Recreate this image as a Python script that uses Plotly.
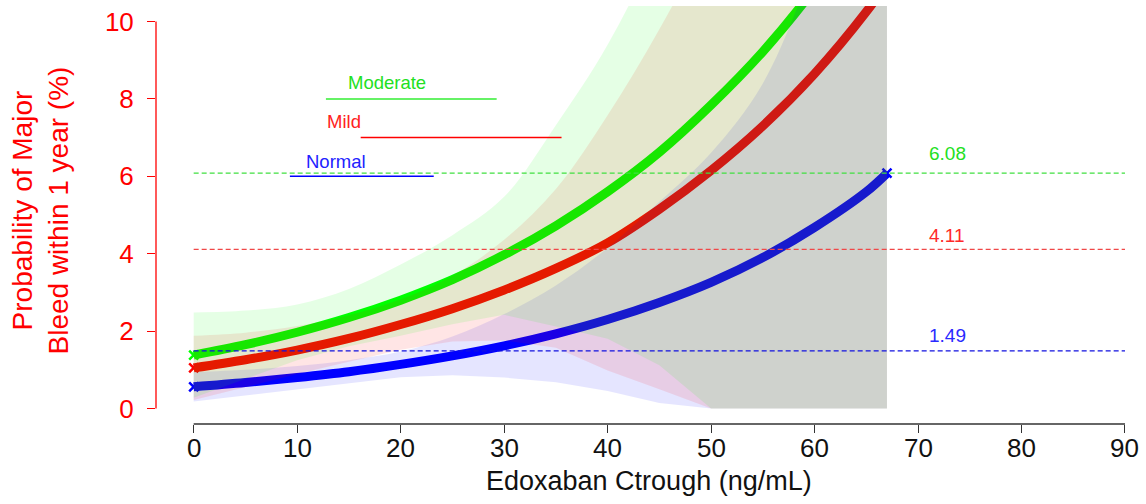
import plotly.graph_objects as go

# ---------------- data ----------------
conc = [0, 5, 10, 15, 20, 25, 30, 35, 40, 45, 50, 55, 60, 65, 67]

normal_mean = [0.56, 0.67, 0.80, 0.95, 1.14, 1.36, 1.62, 1.93, 2.30, 2.74, 3.26, 3.90, 4.68, 5.60, 6.08]
normal_upper = [0.94, 1.00, 1.10, 1.25, 1.47, 1.86, 2.44, 3.18, 4.15, 5.34, 6.61, 8.40, 11.48, 14.8, 16.3]
normal_lower = [0.18, 0.34, 0.50, 0.65, 0.81, 0.86, 0.80, 0.68, 0.45, 0.14, 0.0, 0.0, 0.0, 0.0, 0.0]

mild_mean = [1.05, 1.26, 1.51, 1.81, 2.17, 2.58, 3.06, 3.62, 4.28, 5.15, 6.15, 7.30, 8.65, 10.25, 11.0]
mild_upper = [1.88, 1.96, 2.13, 2.41, 2.82, 3.43, 4.36, 5.67, 7.58, 9.80, 12.35, 15.5, 19.45, 24.25, 26.5]
mild_lower = [0.22, 0.56, 0.89, 1.21, 1.52, 1.73, 1.76, 1.57, 0.98, 0.50, 0.0, 0.0, 0.0, 0.0, 0.0]

moderate_mean = [1.38, 1.65, 1.97, 2.35, 2.80, 3.33, 3.97, 4.72, 5.60, 6.62, 7.84, 9.22, 10.85, 12.75, 13.6]
moderate_upper = [2.48, 2.53, 2.69, 3.09, 3.72, 4.48, 5.47, 7.32, 9.40, 12.1, 15.8, 20.2, 25.4, 31.8, 34.6]
moderate_lower = [0.28, 0.77, 1.25, 1.61, 1.88, 2.18, 2.42, 2.12, 1.80, 1.12, 0.0, 0.0, 0.0, 0.0, 0.0]

ref_values = [6.08, 4.11, 1.49]
ref_labels = ["6.08", "4.11", "1.49"]

group_names = ["Moderate", "Mild", "Normal"]

x_ticks = [0, 10, 20, 30, 40, 50, 60, 70, 80, 90]
y_ticks = [0, 2, 4, 6, 8, 10]

# ---------------- styling ----------------
FONT = "Liberation Sans, Arial, sans-serif"
X_RANGE = [-3.64, 92.03]
Y_RANGE = [-0.4, 10.4]
M_L, M_R, M_T, M_B = 156, 0, 6, 80
W, H = 1146, 504
PW, PH = W - M_L - M_R, H - M_T - M_B

line_cols = {"Normal": "#0000ff", "Mild": "#ff0000", "Moderate": "#00ff00"}
band_cols = {"Normal": "rgba(0,0,255,0.1)", "Mild": "rgba(255,0,0,0.1)", "Moderate": "rgba(0,255,0,0.1)"}
ref_cols = ["#40e040", "#f04848", "#1010e0"]
lab_cols = ["#22e022", "#ff2a2a", "#2a2aff"]

series = {
    "Normal": (normal_mean, normal_upper, normal_lower),
    "Mild": (mild_mean, mild_upper, mild_lower),
    "Moderate": (moderate_mean, moderate_upper, moderate_lower),
}

fig = go.Figure()

# thick mean curves (drawn first; the translucent bands lie over them)
for g in ["Normal", "Mild", "Moderate"]:
    m = series[g][0]
    fig.add_trace(go.Scatter(
        x=conc, y=m, mode="lines",
        line=dict(color=line_cols[g], width=9, shape="spline", smoothing=1.0),
        showlegend=False, hoverinfo="skip"))
    fig.add_trace(go.Scatter(
        x=[conc[0], conc[-1]], y=[m[0], m[-1]], mode="markers",
        marker=dict(symbol="x-thin", size=9, line=dict(color=line_cols[g], width=2.5)),
        showlegend=False, hoverinfo="skip"))

# confidence bands (lower edge, then upper edge filled down to it)
for g in ["Normal", "Mild", "Moderate"]:
    _, up, lo = series[g]
    fig.add_trace(go.Scatter(
        x=conc, y=lo, mode="lines",
        line=dict(width=0, color=band_cols[g], shape="linear"),
        showlegend=False, hoverinfo="skip"))
    fig.add_trace(go.Scatter(
        x=conc, y=up, mode="lines", fill="tonexty", fillcolor=band_cols[g],
        line=dict(width=0, color=band_cols[g], shape="spline", smoothing=1.0),
        showlegend=False, hoverinfo="skip"))

# dashed reference lines
for v, c in zip(ref_values, ref_cols):
    fig.add_trace(go.Scatter(
        x=[x_ticks[0], x_ticks[-1]], y=[v, v], mode="lines",
        line=dict(color=c, width=1.3, dash="5px,3px"),
        showlegend=False, hoverinfo="skip"))

annotations = []
label_pos = [(72.8, 6.58), (72.8, 4.46), (72.8, 1.89)]
for (lx, ly), t, c in zip(label_pos, ref_labels, lab_cols):
    annotations.append(dict(x=lx, y=ly, xref="x", yref="y", text=t, showarrow=False,
                            font=dict(family=FONT, size=19, color=c)))

# group labels with underline segments
legend_text_pos = [(18.73, 8.42), (14.5, 7.42), (13.78, 6.38)]
legend_seg = [(12.78, 29.28, 8.0), (16.14, 35.55, 7.0), (9.3, 23.2, 6.0)]
legend_cols = ["#33ee33", "#ff0000", "#0000ff"]
legend_txt_cols = ["#22e022", "#ff2222", "#2222ff"]
for name, (tx, ty), (sx0, sx1, sy), c, tc in zip(group_names, legend_text_pos, legend_seg, legend_cols, legend_txt_cols):
    fig.add_trace(go.Scatter(x=[sx0, sx1], y=[sy, sy], mode="lines",
                             line=dict(color=c, width=1.5), showlegend=False, hoverinfo="skip"))
    annotations.append(dict(x=tx, y=ty, xref="x", yref="y", text=name, showarrow=False,
                            font=dict(family=FONT, size=18.5, color=tc)))


def px_x(p):
    return (p - M_L) / PW


def px_y(p):
    return 1 - (p - M_T) / PH


# x tick labels placed explicitly (R-style, close under the ticks)
for t in x_ticks:
    annotations.append(dict(x=t, y=px_y(448.5), xref="x", yref="paper", text=str(t), showarrow=False,
                            xanchor="center", yanchor="middle",
                            font=dict(family=FONT, size=26, color="#111111")))

# axis titles
annotations.append(dict(x=px_x(40.5), y=px_y(211), xref="paper", yref="paper",
                        xanchor="center", yanchor="middle",
                        text="Probability of Major<br>Bleed within 1 year (%)", textangle=-90,
                        showarrow=False, font=dict(family=FONT, size=28, color="#ff0000")))
annotations.append(dict(x=px_x(649), y=px_y(481), xref="paper", yref="paper",
                        text="Edoxaban Ctrough (ng/mL)", showarrow=False,
                        xanchor="center", yanchor="middle",
                        font=dict(family=FONT, size=27, color="#111111")))


def xp(v):
    return (v - X_RANGE[0]) / (X_RANGE[1] - X_RANGE[0])


def yp(v):
    return (v - Y_RANGE[0]) / (Y_RANGE[1] - Y_RANGE[0])


shapes = [
    dict(type="line", xref="paper", yref="paper", x0=0, x1=0, y0=yp(y_ticks[0]), y1=yp(y_ticks[-1]),
         line=dict(color="#ff0000", width=1.3)),
    dict(type="line", xref="paper", yref="paper", x0=xp(x_ticks[0]), x1=xp(x_ticks[-1]), y0=0, y1=0,
         line=dict(color="#333333", width=1.3)),
]

fig.update_layout(
    width=W, height=H,
    margin=dict(l=M_L, r=M_R, t=M_T, b=M_B),
    paper_bgcolor="white", plot_bgcolor="white",
    showlegend=False,
    annotations=annotations,
    shapes=shapes,
    xaxis=dict(range=X_RANGE, tickvals=x_ticks, showgrid=False, zeroline=False, showline=False,
               ticks="outside", ticklen=8, tickwidth=1.2, tickcolor="#333333",
               showticklabels=False),
    yaxis=dict(range=Y_RANGE, tickvals=y_ticks, showgrid=False, zeroline=False, showline=False,
               ticks="outside", ticklen=8, tickwidth=1.2, tickcolor="#ff0000",
               tickfont=dict(family=FONT, size=26, color="#ff0000"), ticklabelstandoff=8),
)

fig.write_html("out.html")
